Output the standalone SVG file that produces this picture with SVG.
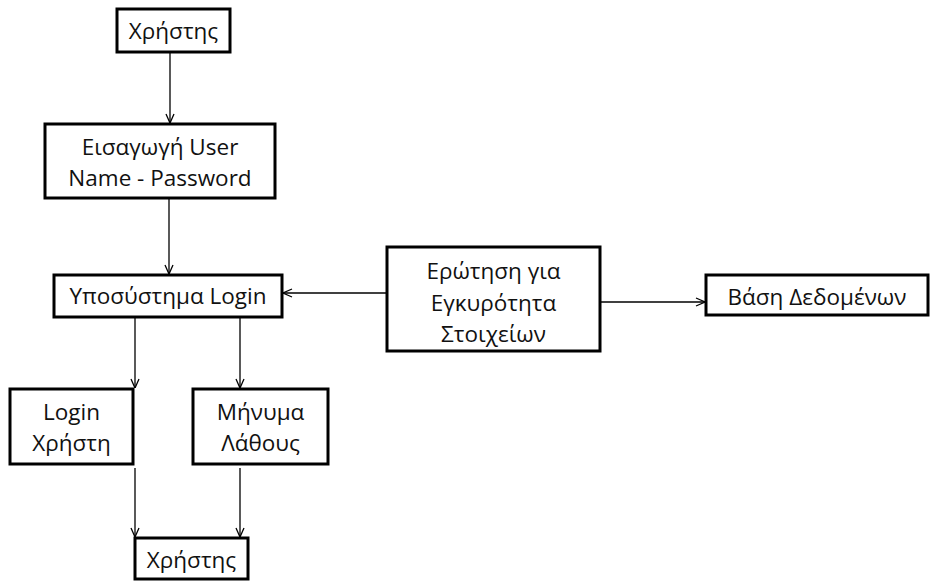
<svg xmlns="http://www.w3.org/2000/svg" width="930" height="581" viewBox="0 0 930 581">
<defs>
<style>
.box{fill:#fff;stroke:#000;stroke-width:3}
.t{font-family:"Open Sans","Liberation Sans",sans-serif;font-size:22.5px;fill:#111;text-anchor:middle}
.c{stroke:#000;stroke-width:1.3;fill:none;marker-end:url(#ah)}
</style>
<marker id="ah" viewBox="0 0 10 10" refX="10" refY="5" markerWidth="10" markerHeight="10" markerUnits="userSpaceOnUse" orient="auto">
<path d="M1,1 L10,5 L1,9" fill="none" stroke="#000" stroke-width="1.3"/>
</marker>
</defs>
<rect width="930" height="581" fill="#fff"/>
<g id="connectors">
<line class="c" x1="170" y1="53" x2="170" y2="123"/>
<line class="c" x1="169" y1="199" x2="169" y2="274"/>
<line class="c" x1="386" y1="293" x2="283" y2="293"/>
<line class="c" x1="601" y1="302" x2="705" y2="302"/>
<line class="c" x1="135" y1="318" x2="135" y2="388"/>
<line class="c" x1="240" y1="318" x2="240" y2="388"/>
<line class="c" x1="135" y1="468" x2="135" y2="537"/>
<line class="c" x1="240" y1="468" x2="240" y2="537"/>
</g>
<g id="user-top">
<rect class="box" x="117" y="9" width="113" height="43"/>
<text class="t" x="173.5" y="39">Χρήστης</text>
</g>
<g id="input">
<rect class="box" x="45" y="124" width="230" height="74"/>
<text class="t" x="160" y="155">Εισαγωγή User</text>
<text class="t" x="160" y="186">Name - Password</text>
</g>
<g id="login-subsystem">
<rect class="box" x="54" y="275" width="228" height="42"/>
<text class="t" x="168" y="304">Υποσύστημα Login</text>
</g>
<g id="query">
<rect class="box" x="387" y="247" width="213" height="104"/>
<text class="t" x="493.5" y="279">Ερώτηση για</text>
<text class="t" x="493.5" y="311">Εγκυρότητα</text>
<text class="t" x="493.5" y="342">Στοιχείων</text>
</g>
<g id="database">
<rect class="box" x="706" y="275" width="222" height="40"/>
<text class="t" x="817" y="305">Βάση Δεδομένων</text>
</g>
<g id="login-user">
<rect class="box" x="10" y="389" width="123" height="75"/>
<text class="t" x="71.5" y="420">Login</text>
<text class="t" x="71.5" y="451">Χρήστη</text>
</g>
<g id="error-msg">
<rect class="box" x="193" y="389" width="135" height="75"/>
<text class="t" x="260.5" y="420">Μήνυμα</text>
<text class="t" x="260.5" y="451">Λάθους</text>
</g>
<g id="user-bottom">
<rect class="box" x="135" y="538" width="113" height="41"/>
<text class="t" x="191.5" y="568">Χρήστης</text>
</g>
</svg>
